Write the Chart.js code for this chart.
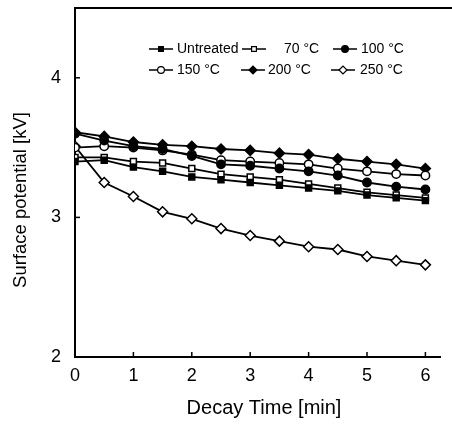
<!DOCTYPE html>
<html>
<head>
<meta charset="utf-8">
<script src="https://cdn.jsdelivr.net/npm/chart.js@4.4.0/dist/chart.umd.min.js"></script>
<style>
  html, body { margin: 0; padding: 0; background: #fff; }
  #wrap { width: 452px; height: 426px; }
</style>
</head>
<body>
<div id="wrap"><canvas id="decayChart"></canvas></div>
<script>
const ctx = document.getElementById('decayChart').getContext('2d');

// decay time in minutes
const times = [0, 0.5, 1, 1.5, 2, 2.5, 3, 3.5, 4, 4.5, 5, 5.5, 6];

// surface potential [kV]
const untreated = [3.40, 3.41, 3.36, 3.33, 3.29, 3.27, 3.25, 3.23, 3.21, 3.19, 3.16, 3.14, 3.12];
const t70  = [3.43, 3.43, 3.40, 3.39, 3.35, 3.31, 3.29, 3.27, 3.24, 3.21, 3.18, 3.16, 3.14];
const t100 = [3.60, 3.55, 3.51, 3.49, 3.44, 3.38, 3.37, 3.35, 3.33, 3.30, 3.25, 3.22, 3.20];
const t150 = [3.50, 3.51, 3.50, 3.48, 3.45, 3.41, 3.40, 3.39, 3.38, 3.35, 3.33, 3.31, 3.30];
const t200 = [3.61, 3.58, 3.54, 3.52, 3.51, 3.49, 3.48, 3.46, 3.45, 3.42, 3.40, 3.38, 3.35];
const t250 = [3.51, 3.25, 3.15, 3.04, 2.99, 2.92, 2.87, 2.83, 2.79, 2.77, 2.72, 2.69, 2.66];

const labels = ['Untreated', '70 °C', '100 °C', '150 °C', '200 °C', '250 °C'];
const xTicks = [0, 1, 2, 3, 4, 5, 6];
const yTicks = [2, 3, 4];
const xTitle = 'Decay Time [min]';
const yTitle = 'Surface potential [kV]';

const FONT = '"Liberation Sans", Arial, sans-serif';

function series(label, vals, style, filled) {
    return {
        label: label,
        data: times.map((t, i) => ({ x: t, y: vals[i] })),
        borderColor: '#000',
        borderWidth: 1.8,
        pointStyle: style,
        pointRadius: style === 'rectRot' ? 5 : 4.2,
        pointBorderWidth: 1.5,
        pointBorderColor: '#000',
        pointBackgroundColor: filled ? '#000' : '#fff',
        pointHoverRadius: 4,
        tension: 0
    };
}

// inward ticks, top frame, axis titles and the in-plot legend
const frame = {
    id: 'frame',
    afterDraw(chart) {
        const c = chart.ctx;
        const a = chart.chartArea;
        const xs = chart.scales.x, ys = chart.scales.y;
        c.save();
        c.strokeStyle = '#000';
        c.lineWidth = 2;
        c.beginPath();
        c.moveTo(a.left - 1, a.top);
        c.lineTo(chart.width, a.top);
        c.stroke();
        c.lineWidth = 1.5;
        xTicks.forEach(v => {
            if (v === 0) return;
            const px = xs.getPixelForValue(v);
            c.beginPath(); c.moveTo(px, a.bottom); c.lineTo(px, a.bottom - 5); c.stroke();
        });
        yTicks.forEach(v => {
            const py = ys.getPixelForValue(v);
            c.beginPath(); c.moveTo(a.left, py); c.lineTo(a.left + 5, py); c.stroke();
        });

        // axis titles
        c.fillStyle = '#000';
        c.textAlign = 'center';
        c.textBaseline = 'middle';
        c.font = '20px ' + FONT;
        c.fillText(xTitle, 264, 408);
        c.save();
        c.translate(21, 200);
        c.rotate(-Math.PI / 2);
        c.font = '18.5px ' + FONT;
        c.fillText(yTitle, 0, 0);
        c.restore();

        // legend, 3 per row: [marker x, text x, y]
        const pos = [[149, 177, 49], [242, 284, 49], [333, 361, 49],
                     [149, 177, 70], [241, 268, 70], [331, 360, 70]];
        c.font = '14px ' + FONT;
        c.textAlign = 'left';
        chart.data.datasets.forEach((ds, i) => {
            const [mx, tx, ly] = pos[i];
            c.lineWidth = 1.5;
            c.beginPath(); c.moveTo(mx, ly); c.lineTo(mx + 24, ly); c.stroke();
            c.fillStyle = ds.pointBackgroundColor;
            c.lineWidth = 1.2;
            Chart.helpers.drawPoint(c, { pointStyle: ds.pointStyle, radius: ds.pointStyle === 'rectRot' ? 4 : 3.4, rotation: 0, borderWidth: 1.2 }, mx + 12, ly);
            c.fillStyle = '#000';
            c.fillText(ds.label, tx, ly);
        });
        c.restore();
    }
};

const decayChart = new Chart(ctx, {
    type: 'line',
    data: {
        datasets: [
            series(labels[0], untreated, 'rect', true),
            series(labels[1], t70, 'rect', false),
            series(labels[2], t100, 'circle', true),
            series(labels[3], t150, 'circle', false),
            series(labels[4], t200, 'rectRot', true),
            series(labels[5], t250, 'rectRot', false)
        ]
    },
    options: {
        responsive: true,
        maintainAspectRatio: false,
        animation: false,
        layout: { padding: { left: 0, right: 12, top: 8, bottom: 0 } },
        plugins: { legend: { display: false }, tooltip: { enabled: false } },
        scales: {
            x: {
                type: 'linear',
                min: 0,
                max: 6.25,
                afterBuildTicks: s => { s.ticks = xTicks.map(v => ({ value: v })); },
                afterFit: s => { s.height = 69; },
                grid: { display: false },
                border: { display: true, color: '#000', width: 2 },
                ticks: { color: '#000', padding: 0, font: { family: FONT, size: 18 } }
            },
            y: {
                min: 2,
                max: 4.5,
                afterBuildTicks: s => { s.ticks = yTicks.map(v => ({ value: v })); },
                afterFit: s => { s.width = 75; s.paddingTop = 0; s.paddingBottom = 0; },
                grid: { display: false },
                border: { display: true, color: '#000', width: 2 },
                ticks: { color: '#000', padding: 6, font: { family: FONT, size: 18 } }
            }
        }
    },
    plugins: [frame]
});
</script>
</body>
</html>
